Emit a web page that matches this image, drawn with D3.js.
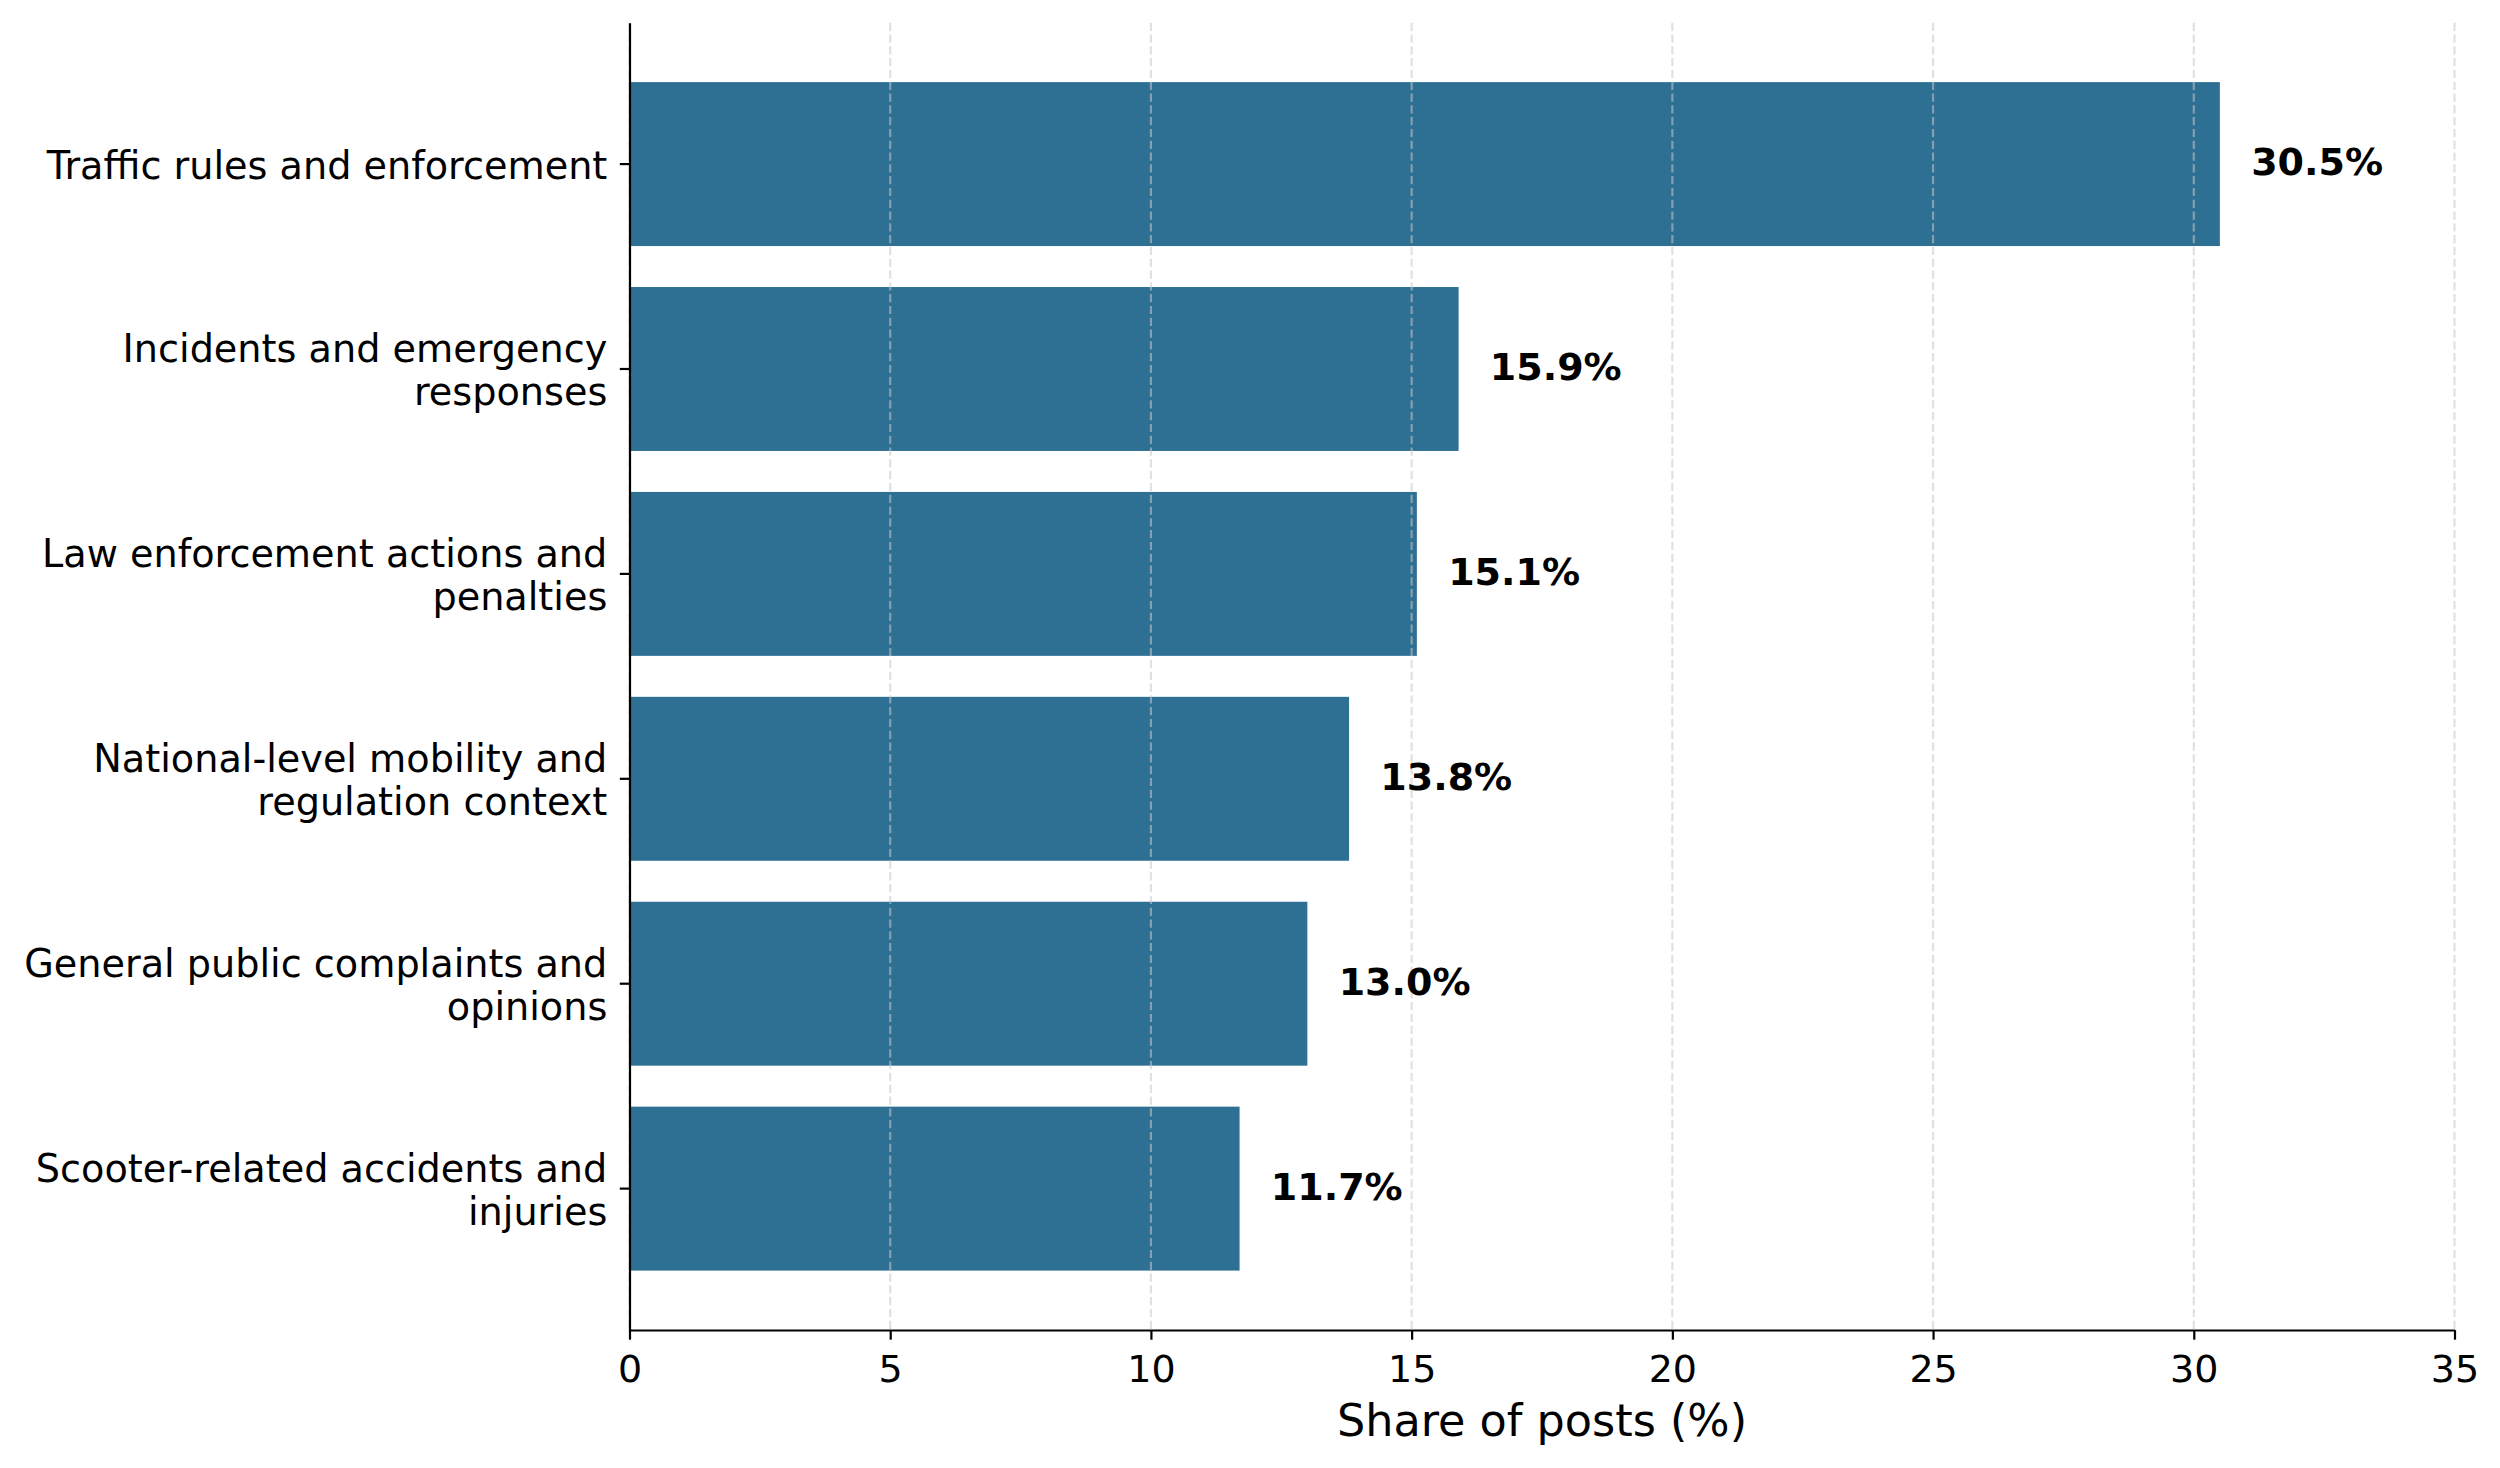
<!DOCTYPE html>
<html>
<head>
<meta charset="utf-8">
<script src="https://cdn.jsdelivr.net/npm/d3@7"></script>
<style>
  body { margin: 0; background: #fff; }
  text { font-family: "DejaVu Sans", sans-serif; fill: #000; }
</style>
</head>
<body>
<div id="chart"></div>
<script>
// data
const categories = [
  "Traffic rules and enforcement",
  "Incidents and emergency\nresponses",
  "Law enforcement actions and\npenalties",
  "National-level mobility and\nregulation context",
  "General public complaints and\nopinions",
  "Scooter-related accidents and\ninjuries"
];
const shares = [30.5, 15.9, 15.1, 13.8, 13.0, 11.7];
const xTicks = [0, 5, 10, 15, 20, 25, 30, 35];
const xLabel = "Share of posts (%)";

const data = categories.map((c, i) => ({ cat: c, value: shares[i] }));

const W = 2500, H = 1468;
const plot = { left: 629.5, right: 2454.5, top: 22.7, bottom: 1330 };
const barColor = "#2e6f94";
const lw = 2.2;

const svg = d3.select("#chart")
  .append("svg")
  .attr("width", W)
  .attr("height", H);

const x = d3.scaleLinear()
  .domain([0, 35])
  .range([plot.left, plot.right]);

const y = d3.scaleBand()
  .domain(categories)
  .range([plot.top, plot.bottom])
  .paddingInner(0.2)
  .paddingOuter(0.29);

// bars
svg.append("g")
  .selectAll("rect")
  .data(data)
  .join("rect")
  .attr("x", x(0))
  .attr("y", d => y(d.cat))
  .attr("width", d => x(d.value) - x(0))
  .attr("height", y.bandwidth())
  .attr("fill", barColor);

// dashed vertical grid (drawn over the bars, like matplotlib)
svg.append("g")
  .selectAll("line")
  .data(xTicks)
  .join("line")
  .attr("x1", d => x(d))
  .attr("x2", d => x(d))
  .attr("y1", plot.top)
  .attr("y2", plot.bottom)
  .attr("stroke", "#c8c8c8")
  .attr("stroke-opacity", 0.55)
  .attr("stroke-width", lw)
  .attr("stroke-dasharray", "8.2,3.6");

// bottom axis
const xAxis = svg.append("g")
  .attr("transform", "translate(0," + plot.bottom + ")")
  .call(d3.axisBottom(x)
    .tickValues(xTicks)
    .tickFormat(d3.format("d"))
    .tickSizeInner(9.7)
    .tickSizeOuter(0));

xAxis.select(".domain").attr("stroke", "#000").attr("stroke-width", lw);
xAxis.selectAll(".tick line").attr("stroke", "#000").attr("stroke-width", lw);
xAxis.selectAll(".tick text")
  .attr("y", 52)
  .attr("dy", null)
  .style("font-size", "38px")
  .style("font-family", "DejaVu Sans")
  .attr("fill", "#000");

// left axis
const yAxis = svg.append("g")
  .attr("transform", "translate(" + plot.left + ",0)")
  .call(d3.axisLeft(y)
    .tickSizeInner(9.7)
    .tickSizeOuter(0)
    .tickPadding(12.5));

yAxis.select(".domain").attr("stroke", "#000").attr("stroke-width", lw);
yAxis.selectAll(".tick line").attr("stroke", "#000").attr("stroke-width", lw);
yAxis.selectAll(".tick text")
  .attr("dy", null)
  .style("font-size", "38.2px")
  .style("font-family", "DejaVu Sans")
  .attr("fill", "#000")
  .each(function(d) {
    const t = d3.select(this);
    const lines = d.split("\n");
    const xPos = t.attr("x");
    t.text(null);
    lines.forEach((ln, i) => {
      t.append("tspan")
        .attr("x", xPos)
        .attr("y", 14.5 + (i - (lines.length - 1) / 2) * 43)
        .text(ln);
    });
  });

// value labels
svg.append("g")
  .selectAll("text")
  .data(data)
  .join("text")
  .attr("x", d => x(d.value + 0.6))
  .attr("y", d => y(d.cat) + y.bandwidth() / 2 + 11)
  .style("font-size", "38px")
  .style("font-weight", "bold")
  .text(d => d.value.toFixed(1) + "%");

// axis title
svg.append("text")
  .attr("x", (plot.left + plot.right) / 2)
  .attr("y", 1436)
  .attr("text-anchor", "middle")
  .style("font-size", "44.5px")
  .text(xLabel);
</script>
</body>
</html>
